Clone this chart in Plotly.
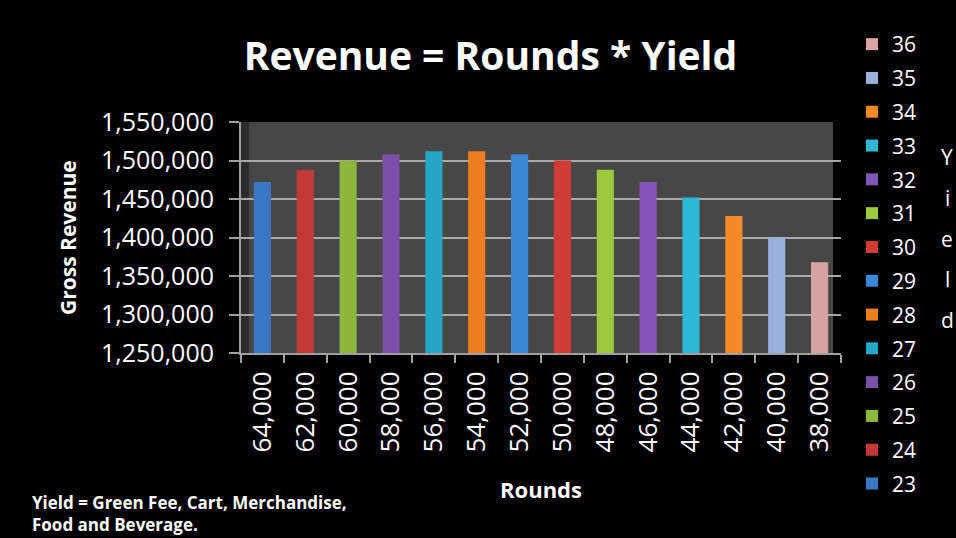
import plotly.graph_objects as go

rounds = ["64,000", "62,000", "60,000", "58,000", "56,000", "54,000", "52,000",
          "50,000", "48,000", "46,000", "44,000", "42,000", "40,000", "38,000"]
yields = ["23", "24", "25", "26", "27", "28", "29", "30", "31", "32", "33", "34", "35", "36"]
revenue = [1472000, 1488000, 1500000, 1508000, 1512000, 1512000, 1508000,
           1500000, 1488000, 1472000, 1452000, 1428000, 1400000, 1368000]
colors = ["#3A76C4", "#C23A36", "#8DB63C", "#7B50A8", "#27A7C6", "#EF7E1E", "#3D86D6",
          "#CF3B35", "#9CC93E", "#8455B8", "#2DB8D6", "#F5892A", "#9AB2DA", "#D9A3A3"]

fig = go.Figure()
# added from the highest yield down so the legend lists 36 at the top
for r, yv, v, c in reversed(list(zip(rounds, yields, revenue, colors))):
    fig.add_trace(go.Bar(x=[r], y=[v], name=yv, legendgroup=yv,
                         marker=dict(color=c, line=dict(width=0)), width=0.4))

FONT = "Open Sans"
L, R, T, B = 241, 115, 122, 185
fig.update_layout(
    width=956, height=538,
    paper_bgcolor="#000000", plot_bgcolor="#474747",
    barmode="overlay",
    margin=dict(l=L, r=R, t=T, b=B),
    title=dict(text="<b>Revenue = Rounds * Yield</b>", x=0.513, xanchor="center",
               y=0.895, yanchor="middle", font=dict(family=FONT, size=39, color="white")),
    font=dict(family=FONT, color="white"),
    xaxis=dict(categoryorder="array", categoryarray=rounds, tickangle=-90,
               tickfont=dict(size=26, color="white"), showline=True, linecolor="#A0A0A0",
               linewidth=2, ticks="outside", tickson="boundaries", ticklen=8,
               tickcolor="#A0A0A0", tickwidth=2, showgrid=False, ticklabelstandoff=6,
               title=dict(text="<b>Rounds</b>", font=dict(size=22, color="white"), standoff=31)),
    yaxis=dict(range=[1250000, 1550000], dtick=50000, tickformat=",",
               tickfont=dict(size=25, color="white"), showline=True, linecolor="#A0A0A0",
               linewidth=2, ticks="outside", ticklen=10, tickcolor="#A0A0A0", tickwidth=2,
               gridcolor="#A8A8A8", gridwidth=2, zeroline=False, ticklabelstandoff=10),
    legend=dict(traceorder="grouped", xref="container", yref="container",
                x=852 / 956, xanchor="left", y=1 - 24 / 538, yanchor="top",
                font=dict(size=21, color="white"), bgcolor="rgba(0,0,0,0)",
                itemwidth=30, tracegroupgap=3.5, maxheight=538),
)

# darker side wall and black strip beyond back wall (3D look)
fig.add_shape(type="rect", xref="paper", yref="paper", x0=0, x1=8 / 600, y0=0, y1=1,
              fillcolor="#2c2c2c", line=dict(width=0), layer="below")
fig.add_shape(type="rect", xref="paper", yref="paper", x0=592 / 600, x1=1, y0=0, y1=1,
              fillcolor="#000000", line=dict(width=0), layer="between")

# y-axis title
fig.add_annotation(text="<b>Gross Revenue</b>", xref="paper", yref="paper",
                   x=-(L - 68) / 600, y=(353 - 238) / 231, textangle=-90,
                   xanchor="center", yanchor="middle", showarrow=False,
                   font=dict(family=FONT, size=21, color="white"))

fig.add_annotation(text="<b>Yield = Green Fee, Cart, Merchandise,<br>Food and Beverage.</b>",
                   xref="paper", yref="paper", x=-(L - 30) / 600, y=-(489 - 353) / 231,
                   xanchor="left", yanchor="top",
                   align="left", showarrow=False, font=dict(family=FONT, size=17, color="white"))

letters = ["Y", "i", "e", "l", "d"]
for i, Lt in enumerate(letters):
    fig.add_annotation(text=Lt, xref="paper", yref="paper", x=(947 - L) / 600,
                       y=(353 - 157 - i * 40.8) / 231,
                       xanchor="center", yanchor="middle", showarrow=False,
                       font=dict(family=FONT, size=21, color="white"))

fig.write_html("out.html")
